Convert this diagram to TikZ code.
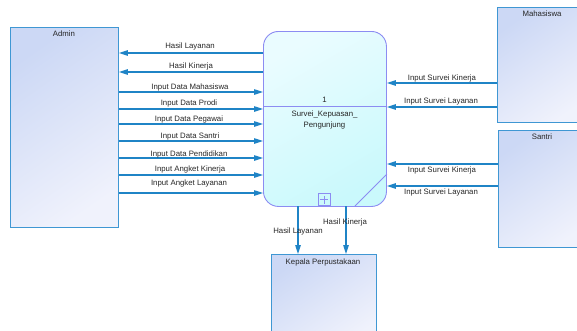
\documentclass[tikz,border=0pt]{standalone}
\usepackage{fontspec}
\setmainfont{Liberation Sans}
\usetikzlibrary{arrows.meta}
\definecolor{flow}{HTML}{1F84C6}
\definecolor{entb}{HTML}{3F97D3}
\definecolor{procb}{HTML}{8C8CF2}
\definecolor{entA}{HTML}{CCD8F5}
\definecolor{entB}{HTML}{F0F2FC}
\definecolor{procA}{HTML}{EAFCFF}
\definecolor{procB}{HTML}{CAF9FC}
\tikzset{
  lbl/.style={font=\fontsize{7.8}{9}\selectfont, inner sep=0pt, text=black!85},
  entity/.style={draw=entb, line width=0.9pt, top color=entA, bottom color=entB, shading angle=35, anchor=north west, inner sep=0pt},
  proc/.style={draw=procb, line width=0.9pt, top color=procA, bottom color=procB, shading angle=30, rounded corners=15pt, anchor=north west, inner sep=0pt},
  flowline/.style={draw=flow, line width=1.1pt, -{Triangle[length=9pt,width=5.5pt]}},
}
\begin{document}
\begin{tikzpicture}[x=1pt,y=-1pt]
\useasboundingbox (0,0) rectangle (577,330);
\clip (0,0) rectangle (577,330);
% entities
\node[entity, minimum width=108pt, minimum height=200pt] (admin) at (10,27) {};
\node[lbl] (adminl) at (64,34) {Admin};
\node[entity, minimum width=92pt, minimum height=115pt] (mhs) at (497,7) {};
\node[lbl] (mhsl) at (542,14) {Mahasiswa};
\node[entity, minimum width=92pt, minimum height=117pt] (santri) at (498,130) {};
\node[lbl] (santril) at (542,137) {Santri};
\node[entity, minimum width=105pt, minimum height=90pt] (kepala) at (271,254) {};
\node[lbl] (kepalal) at (323,262) {Kepala Perpustakaan};
% process
\node[proc, minimum width=123pt, minimum height=175pt] (p) at (263,31) {};
\draw[procb, line width=0.9pt] (p.west |- 0,106) -- (p.east |- 0,106);
\draw[procb, line width=0.9pt] (p.east |- 0,174) -- (355,206);
\node[draw=procb, line width=0.9pt, minimum width=12pt, minimum height=12pt, inner sep=0pt, anchor=south] (plus) at (324,206) {};
\draw[procb, line width=0.8pt] (plus.center) ++(-4,0) -- ++(8,0) (plus.center) ++(0,-4) -- ++(0,8);
\node[lbl] (pnum) at (324.5,100) {1};
\node[lbl] (pname1) at (324.5,114) {Survei\_Kepuasan\_};
\node[lbl] (pname2) at (324.5,125) {Pengunjung};
% admin flows
\draw[flowline] (p.west |- 0,53) -- (admin.east |- 0,53);
\node[lbl] at (190,46) {Hasil Layanan};
\draw[flowline] (p.west |- 0,72) -- (admin.east |- 0,72);
\node[lbl] at (191,66) {Hasil Kinerja};
\draw[flowline] (admin.east |- 0,92) -- (p.west |- 0,92);
\node[lbl] at (190,87.5) {Input Data Mahasiswa};
\draw[flowline] (admin.east |- 0,109) -- (p.west |- 0,109);
\node[lbl] at (189,103) {Input Data Prodi};
\draw[flowline] (admin.east |- 0,124) -- (p.west |- 0,124);
\node[lbl] at (189,119) {Input Data Pegawai};
\draw[flowline] (admin.east |- 0,141) -- (p.west |- 0,141);
\node[lbl] at (190,136) {Input Data Santri};
\draw[flowline] (admin.east |- 0,158) -- (p.west |- 0,158);
\node[lbl] at (189,154) {Input Data Pendidikan};
\draw[flowline] (admin.east |- 0,175) -- (p.west |- 0,175);
\node[lbl] at (190,169) {Input Angket Kinerja};
\draw[flowline] (admin.east |- 0,193) -- (p.west |- 0,193);
\node[lbl] at (189,183) {Input Angket Layanan};
% mahasiswa flows
\draw[flowline] (mhs.west |- 0,83) -- (p.east |- 0,83);
\node[lbl] at (442,78.5) {Input Survei Kinerja};
\draw[flowline] (mhs.west |- 0,107) -- (p.east |- 0,107);
\node[lbl] at (441,101.5) {Input Survei Layanan};
% santri flows
\draw[flowline] (santri.west |- 0,164) -- (p.east |- 0,164);
\node[lbl] at (442,170) {Input Survei Kinerja};
\draw[flowline] (santri.west |- 0,186) -- (p.east |- 0,186);
\node[lbl] at (441,192) {Input Survei Layanan};
% kepala flows
\draw[flowline] (298,206) -- (298,254);
\node[lbl] at (298,231) {Hasil Layanan};
\draw[flowline] (346,206) -- (346,254);
\node[lbl] at (345,222) {Hasil Kinerja};
\end{tikzpicture}
\end{document}
